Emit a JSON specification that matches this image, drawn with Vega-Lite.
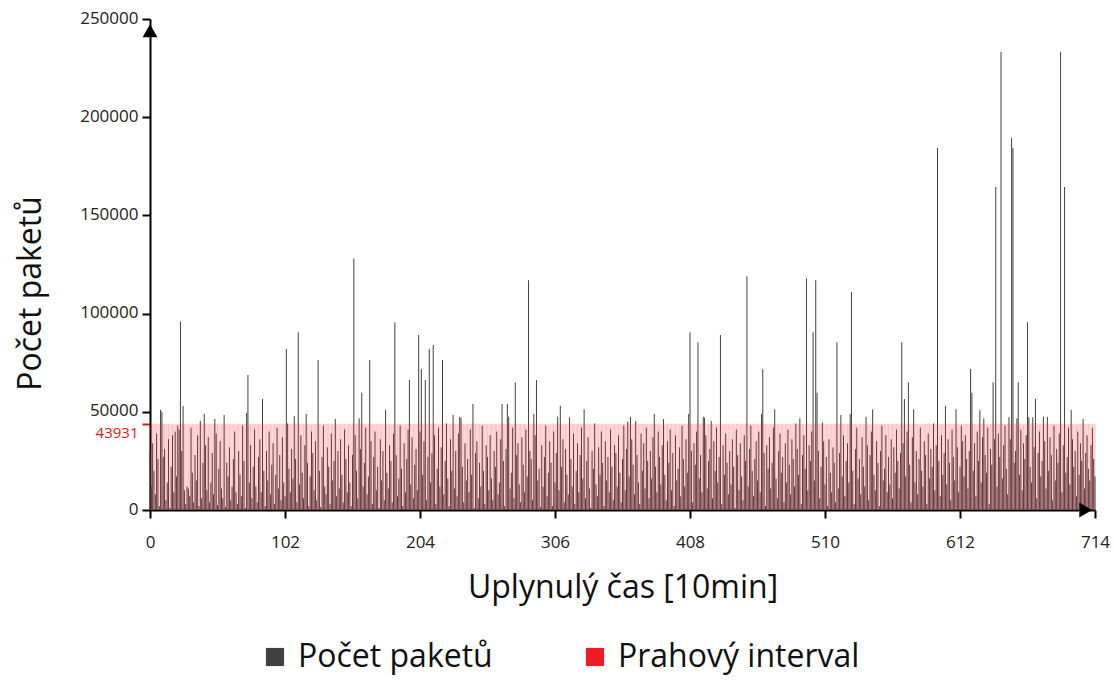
{
"$schema": "https://vega.github.io/schema/vega-lite/v6.json",
"width": 945, "height": 491,
"autosize": "none",
"padding": {"left": 150, "top": 19, "right": 19, "bottom": 171},
"background": "white",
"config": {"view": {"stroke": null}, "font": "Open Sans"},
"data": {"values": [
{"t":0,"v":30000},{"t":1,"v":12000},{"t":2,"v":34000},{"t":3,"v":20000},{"t":4,"v":8000},{"t":5,"v":39000},{"t":6,"v":26000},{"t":7,"v":2000},{"t":8,"v":51000},{"t":9,"v":50000},{"t":10,"v":27000},{"t":11,"v":31000},{"t":12,"v":5000},{"t":13,"v":14000},{"t":14,"v":36000},{"t":15,"v":1000},{"t":16,"v":22000},{"t":17,"v":38000},{"t":18,"v":9000},{"t":19,"v":40000},
{"t":20,"v":17000},{"t":21,"v":43000},{"t":22,"v":41000},{"t":23,"v":96000},{"t":24,"v":30000},{"t":25,"v":53000},{"t":26,"v":10000},{"t":27,"v":3000},{"t":28,"v":12000},{"t":29,"v":11000},{"t":30,"v":7000},{"t":31,"v":42000},{"t":32,"v":19000},{"t":33,"v":4000},{"t":34,"v":28000},{"t":35,"v":15000},{"t":36,"v":38000},{"t":37,"v":2000},{"t":38,"v":45300},{"t":39,"v":6000},
{"t":40,"v":24000},{"t":41,"v":49000},{"t":42,"v":33000},{"t":43,"v":10000},{"t":44,"v":37000},{"t":45,"v":4000},{"t":46,"v":14000},{"t":47,"v":29000},{"t":48,"v":8000},{"t":49,"v":46300},{"t":50,"v":39000},{"t":51,"v":2500},{"t":52,"v":21000},{"t":53,"v":35000},{"t":54,"v":11000},{"t":55,"v":6000},{"t":56,"v":48400},{"t":57,"v":1500},{"t":58,"v":24000},{"t":59,"v":17000},
{"t":60,"v":32000},{"t":61,"v":5000},{"t":62,"v":12000},{"t":63,"v":26000},{"t":64,"v":40000},{"t":65,"v":9000},{"t":66,"v":3000},{"t":67,"v":30000},{"t":68,"v":18000},{"t":69,"v":7000},{"t":70,"v":43000},{"t":71,"v":25000},{"t":72,"v":1000},{"t":73,"v":49400},{"t":74,"v":68700},{"t":75,"v":14000},{"t":76,"v":33000},{"t":77,"v":6000},{"t":78,"v":22000},{"t":79,"v":41000},
{"t":80,"v":12000},{"t":81,"v":4000},{"t":82,"v":27000},{"t":83,"v":36000},{"t":84,"v":9000},{"t":85,"v":56500},{"t":86,"v":20000},{"t":87,"v":2000},{"t":88,"v":30000},{"t":89,"v":15000},{"t":90,"v":40000},{"t":91,"v":8000},{"t":92,"v":23000},{"t":93,"v":34000},{"t":94,"v":3000},{"t":95,"v":18000},{"t":96,"v":42000},{"t":97,"v":11000},{"t":98,"v":28000},{"t":99,"v":5000},
{"t":100,"v":37000},{"t":101,"v":14000},{"t":102,"v":7000},{"t":103,"v":82000},{"t":104,"v":44000},{"t":105,"v":21000},{"t":106,"v":9000},{"t":107,"v":31000},{"t":108,"v":16000},{"t":109,"v":47800},{"t":110,"v":26000},{"t":111,"v":4000},{"t":112,"v":90500},{"t":113,"v":13000},{"t":114,"v":38000},{"t":115,"v":19000},{"t":116,"v":6000},{"t":117,"v":33000},{"t":118,"v":48900},{"t":119,"v":24000},
{"t":120,"v":2000},{"t":121,"v":17000},{"t":122,"v":40000},{"t":123,"v":29000},{"t":124,"v":10000},{"t":125,"v":35000},{"t":126,"v":5000},{"t":127,"v":76400},{"t":128,"v":20000},{"t":129,"v":1500},{"t":130,"v":27000},{"t":131,"v":43000},{"t":132,"v":12000},{"t":133,"v":8000},{"t":134,"v":32000},{"t":135,"v":22000},{"t":136,"v":3000},{"t":137,"v":39000},{"t":138,"v":15000},{"t":139,"v":25000},
{"t":140,"v":46300},{"t":141,"v":7000},{"t":142,"v":30000},{"t":143,"v":11000},{"t":144,"v":36000},{"t":145,"v":18000},{"t":146,"v":4000},{"t":147,"v":41000},{"t":148,"v":26000},{"t":149,"v":9000},{"t":150,"v":33000},{"t":151,"v":14000},{"t":152,"v":2000},{"t":153,"v":28000},{"t":154,"v":128000},{"t":155,"v":38000},{"t":156,"v":20000},{"t":157,"v":6000},{"t":158,"v":46700},{"t":159,"v":31000},
{"t":160,"v":59700},{"t":161,"v":12000},{"t":162,"v":24000},{"t":163,"v":42000},{"t":164,"v":8000},{"t":165,"v":17000},{"t":166,"v":76400},{"t":167,"v":35000},{"t":168,"v":3000},{"t":169,"v":27000},{"t":170,"v":40000},{"t":171,"v":10000},{"t":172,"v":22000},{"t":173,"v":1000},{"t":174,"v":36000},{"t":175,"v":15000},{"t":176,"v":30000},{"t":177,"v":5000},{"t":178,"v":50900},{"t":179,"v":19000},
{"t":180,"v":11000},{"t":181,"v":33000},{"t":182,"v":25000},{"t":183,"v":4000},{"t":184,"v":39000},{"t":185,"v":95600},{"t":186,"v":28000},{"t":187,"v":7000},{"t":188,"v":16000},{"t":189,"v":43000},{"t":190,"v":21000},{"t":191,"v":2000},{"t":192,"v":34000},{"t":193,"v":9000},{"t":194,"v":26000},{"t":195,"v":41000},{"t":196,"v":66200},{"t":197,"v":13000},{"t":198,"v":37000},{"t":199,"v":6000},
{"t":200,"v":23000},{"t":201,"v":31000},{"t":202,"v":10000},{"t":203,"v":89100},{"t":204,"v":40000},{"t":205,"v":71800},{"t":206,"v":18000},{"t":207,"v":35000},{"t":208,"v":66200},{"t":209,"v":5000},{"t":210,"v":27000},{"t":211,"v":82000},{"t":212,"v":14000},{"t":213,"v":29000},{"t":214,"v":84000},{"t":215,"v":38000},{"t":216,"v":3000},{"t":217,"v":21000},{"t":218,"v":42000},{"t":219,"v":12000},
{"t":220,"v":32000},{"t":221,"v":76400},{"t":222,"v":8000},{"t":223,"v":25000},{"t":224,"v":44000},{"t":225,"v":16000},{"t":226,"v":2000},{"t":227,"v":36000},{"t":228,"v":20000},{"t":229,"v":48400},{"t":230,"v":11000},{"t":231,"v":30000},{"t":232,"v":7000},{"t":233,"v":39000},{"t":234,"v":47500},{"t":235,"v":47000},{"t":236,"v":22000},{"t":237,"v":4000},{"t":238,"v":34000},{"t":239,"v":15000},
{"t":240,"v":26000},{"t":241,"v":9000},{"t":242,"v":41000},{"t":243,"v":18000},{"t":244,"v":54000},{"t":245,"v":1000},{"t":246,"v":29000},{"t":247,"v":35000},{"t":248,"v":6000},{"t":249,"v":24000},{"t":250,"v":12000},{"t":251,"v":43000},{"t":252,"v":20000},{"t":253,"v":3000},{"t":254,"v":33000},{"t":255,"v":27000},{"t":256,"v":10000},{"t":257,"v":38000},{"t":258,"v":16000},{"t":259,"v":5000},
{"t":260,"v":30000},{"t":261,"v":22000},{"t":262,"v":40000},{"t":263,"v":8000},{"t":264,"v":14000},{"t":265,"v":36000},{"t":266,"v":54000},{"t":267,"v":25000},{"t":268,"v":2000},{"t":269,"v":31000},{"t":270,"v":54000},{"t":271,"v":47500},{"t":272,"v":11000},{"t":273,"v":19000},{"t":274,"v":42000},{"t":275,"v":6000},{"t":276,"v":65000},{"t":277,"v":28000},{"t":278,"v":34000},{"t":279,"v":13000},
{"t":280,"v":4000},{"t":281,"v":37000},{"t":282,"v":23000},{"t":283,"v":9000},{"t":284,"v":41000},{"t":285,"v":17000},{"t":286,"v":117000},{"t":287,"v":30000},{"t":288,"v":26000},{"t":289,"v":5000},{"t":290,"v":48900},{"t":291,"v":38000},{"t":292,"v":66200},{"t":293,"v":15000},{"t":294,"v":21000},{"t":295,"v":1500},{"t":296,"v":33000},{"t":297,"v":12000},{"t":298,"v":27000},{"t":299,"v":43000},
{"t":300,"v":7000},{"t":301,"v":19000},{"t":302,"v":35000},{"t":303,"v":24000},{"t":304,"v":2000},{"t":305,"v":40000},{"t":306,"v":14000},{"t":307,"v":29000},{"t":308,"v":47500},{"t":309,"v":10000},{"t":310,"v":53100},{"t":311,"v":22000},{"t":312,"v":36000},{"t":313,"v":4000},{"t":314,"v":31000},{"t":315,"v":18000},{"t":316,"v":8000},{"t":317,"v":47200},{"t":318,"v":26000},{"t":319,"v":12000},
{"t":320,"v":39000},{"t":321,"v":3000},{"t":322,"v":20000},{"t":323,"v":34000},{"t":324,"v":9000},{"t":325,"v":28000},{"t":326,"v":42000},{"t":327,"v":16000},{"t":328,"v":51300},{"t":329,"v":6000},{"t":330,"v":25000},{"t":331,"v":37000},{"t":332,"v":11000},{"t":333,"v":1000},{"t":334,"v":30000},{"t":335,"v":21000},{"t":336,"v":44000},{"t":337,"v":13000},{"t":338,"v":7000},{"t":339,"v":32000},
{"t":340,"v":18000},{"t":341,"v":40000},{"t":342,"v":24000},{"t":343,"v":2000},{"t":344,"v":35000},{"t":345,"v":15000},{"t":346,"v":27000},{"t":347,"v":9000},{"t":348,"v":41000},{"t":349,"v":22000},{"t":350,"v":5000},{"t":351,"v":33000},{"t":352,"v":29000},{"t":353,"v":12000},{"t":354,"v":38000},{"t":355,"v":19000},{"t":356,"v":4000},{"t":357,"v":26000},{"t":358,"v":43000},{"t":359,"v":10000},
{"t":360,"v":31000},{"t":361,"v":45000},{"t":362,"v":17000},{"t":363,"v":47500},{"t":364,"v":36000},{"t":365,"v":23000},{"t":366,"v":8000},{"t":367,"v":45300},{"t":368,"v":28000},{"t":369,"v":14000},{"t":370,"v":3000},{"t":371,"v":39000},{"t":372,"v":20000},{"t":373,"v":34000},{"t":374,"v":11000},{"t":375,"v":42000},{"t":376,"v":25000},{"t":377,"v":6000},{"t":378,"v":30000},{"t":379,"v":16000},
{"t":380,"v":37000},{"t":381,"v":48900},{"t":382,"v":22000},{"t":383,"v":9000},{"t":384,"v":40000},{"t":385,"v":27000},{"t":386,"v":13000},{"t":387,"v":33000},{"t":388,"v":46300},{"t":389,"v":18000},{"t":390,"v":5000},{"t":391,"v":35000},{"t":392,"v":24000},{"t":393,"v":41000},{"t":394,"v":10000},{"t":395,"v":29000},{"t":396,"v":2000},{"t":397,"v":38000},{"t":398,"v":15000},{"t":399,"v":21000},
{"t":400,"v":32000},{"t":401,"v":7000},{"t":402,"v":43000},{"t":403,"v":26000},{"t":404,"v":12000},{"t":405,"v":36000},{"t":406,"v":19000},{"t":407,"v":48900},{"t":408,"v":90500},{"t":409,"v":30000},{"t":410,"v":4000},{"t":411,"v":34000},{"t":412,"v":23000},{"t":413,"v":40000},{"t":414,"v":85400},{"t":415,"v":16000},{"t":416,"v":28000},{"t":417,"v":9000},{"t":418,"v":47500},{"t":419,"v":47000},
{"t":420,"v":38000},{"t":421,"v":11000},{"t":422,"v":25000},{"t":423,"v":31000},{"t":424,"v":45300},{"t":425,"v":6000},{"t":426,"v":35000},{"t":427,"v":20000},{"t":428,"v":42000},{"t":429,"v":14000},{"t":430,"v":27000},{"t":431,"v":89100},{"t":432,"v":3000},{"t":433,"v":33000},{"t":434,"v":18000},{"t":435,"v":39000},{"t":436,"v":24000},{"t":437,"v":8000},{"t":438,"v":30000},{"t":439,"v":13000},
{"t":440,"v":36000},{"t":441,"v":22000},{"t":442,"v":1000},{"t":443,"v":41000},{"t":444,"v":28000},{"t":445,"v":10000},{"t":446,"v":34000},{"t":447,"v":17000},{"t":448,"v":5000},{"t":449,"v":38000},{"t":450,"v":25000},{"t":451,"v":119000},{"t":452,"v":12000},{"t":453,"v":31000},{"t":454,"v":43000},{"t":455,"v":20000},{"t":456,"v":7000},{"t":457,"v":26000},{"t":458,"v":35000},{"t":459,"v":15000},
{"t":460,"v":40000},{"t":461,"v":9000},{"t":462,"v":48900},{"t":463,"v":71800},{"t":464,"v":29000},{"t":465,"v":2000},{"t":466,"v":33000},{"t":467,"v":21000},{"t":468,"v":37000},{"t":469,"v":11000},{"t":470,"v":24000},{"t":471,"v":42000},{"t":472,"v":51300},{"t":473,"v":16000},{"t":474,"v":6000},{"t":475,"v":30000},{"t":476,"v":39000},{"t":477,"v":19000},{"t":478,"v":27000},{"t":479,"v":4000},
{"t":480,"v":34000},{"t":481,"v":14000},{"t":482,"v":41000},{"t":483,"v":23000},{"t":484,"v":8000},{"t":485,"v":36000},{"t":486,"v":26000},{"t":487,"v":12000},{"t":488,"v":44000},{"t":489,"v":31000},{"t":490,"v":18000},{"t":491,"v":46700},{"t":492,"v":3000},{"t":493,"v":28000},{"t":494,"v":38000},{"t":495,"v":21000},{"t":496,"v":118000},{"t":497,"v":10000},{"t":498,"v":33000},{"t":499,"v":25000},
{"t":500,"v":40000},{"t":501,"v":90500},{"t":502,"v":15000},{"t":503,"v":117000},{"t":504,"v":59700},{"t":505,"v":30000},{"t":506,"v":6000},{"t":507,"v":22000},{"t":508,"v":44600},{"t":509,"v":35000},{"t":510,"v":13000},{"t":511,"v":27000},{"t":512,"v":2000},{"t":513,"v":36000},{"t":514,"v":19000},{"t":515,"v":9000},{"t":516,"v":32000},{"t":517,"v":24000},{"t":518,"v":4000},{"t":519,"v":85400},
{"t":520,"v":11000},{"t":521,"v":29000},{"t":522,"v":48400},{"t":523,"v":17000},{"t":524,"v":38000},{"t":525,"v":7000},{"t":526,"v":25000},{"t":527,"v":34000},{"t":528,"v":14000},{"t":529,"v":48900},{"t":530,"v":111000},{"t":531,"v":20000},{"t":532,"v":3000},{"t":533,"v":31000},{"t":534,"v":42000},{"t":535,"v":16000},{"t":536,"v":26000},{"t":537,"v":8000},{"t":538,"v":37000},{"t":539,"v":22000},
{"t":540,"v":12000},{"t":541,"v":47500},{"t":542,"v":33000},{"t":543,"v":5000},{"t":544,"v":28000},{"t":545,"v":40000},{"t":546,"v":51300},{"t":547,"v":18000},{"t":548,"v":10000},{"t":549,"v":35000},{"t":550,"v":24000},{"t":551,"v":2000},{"t":552,"v":30000},{"t":553,"v":43000},{"t":554,"v":15000},{"t":555,"v":21000},{"t":556,"v":38000},{"t":557,"v":9000},{"t":558,"v":27000},{"t":559,"v":13000},
{"t":560,"v":36000},{"t":561,"v":6000},{"t":562,"v":32000},{"t":563,"v":19000},{"t":564,"v":41000},{"t":565,"v":25000},{"t":566,"v":11000},{"t":567,"v":29000},{"t":568,"v":85400},{"t":569,"v":34000},{"t":570,"v":56500},{"t":571,"v":17000},{"t":572,"v":40000},{"t":573,"v":65000},{"t":574,"v":23000},{"t":575,"v":4000},{"t":576,"v":37000},{"t":577,"v":51300},{"t":578,"v":14000},{"t":579,"v":30000},
{"t":580,"v":8000},{"t":581,"v":26000},{"t":582,"v":42000},{"t":583,"v":20000},{"t":584,"v":12000},{"t":585,"v":35000},{"t":586,"v":28000},{"t":587,"v":3000},{"t":588,"v":39000},{"t":589,"v":16000},{"t":590,"v":31000},{"t":591,"v":22000},{"t":592,"v":44000},{"t":593,"v":10000},{"t":594,"v":33000},{"t":595,"v":184300},{"t":596,"v":25000},{"t":597,"v":7000},{"t":598,"v":38000},{"t":599,"v":18000},
{"t":600,"v":29000},{"t":601,"v":53100},{"t":602,"v":13000},{"t":603,"v":36000},{"t":604,"v":24000},{"t":605,"v":5000},{"t":606,"v":41000},{"t":607,"v":27000},{"t":608,"v":15000},{"t":609,"v":51300},{"t":610,"v":32000},{"t":611,"v":9000},{"t":612,"v":22000},{"t":613,"v":43000},{"t":614,"v":35000},{"t":615,"v":17000},{"t":616,"v":38000},{"t":617,"v":26000},{"t":618,"v":11000},{"t":619,"v":30000},
{"t":620,"v":71800},{"t":621,"v":59700},{"t":622,"v":20000},{"t":623,"v":34000},{"t":624,"v":7000},{"t":625,"v":40000},{"t":626,"v":25000},{"t":627,"v":50900},{"t":628,"v":14000},{"t":629,"v":37000},{"t":630,"v":46700},{"t":631,"v":28000},{"t":632,"v":19000},{"t":633,"v":42000},{"t":634,"v":3000},{"t":635,"v":31000},{"t":636,"v":23000},{"t":637,"v":65000},{"t":638,"v":36000},{"t":639,"v":164500},
{"t":640,"v":12000},{"t":641,"v":39000},{"t":642,"v":27000},{"t":643,"v":233300},{"t":644,"v":16000},{"t":645,"v":33000},{"t":646,"v":43000},{"t":647,"v":21000},{"t":648,"v":8000},{"t":649,"v":47200},{"t":650,"v":36000},{"t":651,"v":189400},{"t":652,"v":184300},{"t":653,"v":24000},{"t":654,"v":30000},{"t":655,"v":46700},{"t":656,"v":65000},{"t":657,"v":18000},{"t":658,"v":41000},{"t":659,"v":10000},
{"t":660,"v":34000},{"t":661,"v":26000},{"t":662,"v":38000},{"t":663,"v":95600},{"t":664,"v":47200},{"t":665,"v":22000},{"t":666,"v":14000},{"t":667,"v":47200},{"t":668,"v":32000},{"t":669,"v":56500},{"t":670,"v":6000},{"t":671,"v":29000},{"t":672,"v":40000},{"t":673,"v":17000},{"t":674,"v":25000},{"t":675,"v":47500},{"t":676,"v":35000},{"t":677,"v":11000},{"t":678,"v":47500},{"t":679,"v":20000},
{"t":680,"v":37000},{"t":681,"v":28000},{"t":682,"v":5000},{"t":683,"v":43000},{"t":684,"v":15000},{"t":685,"v":31000},{"t":686,"v":24000},{"t":687,"v":39000},{"t":688,"v":233300},{"t":689,"v":9000},{"t":690,"v":33000},{"t":691,"v":164500},{"t":692,"v":19000},{"t":693,"v":27000},{"t":694,"v":42000},{"t":695,"v":13000},{"t":696,"v":50900},{"t":697,"v":36000},{"t":698,"v":22000},{"t":699,"v":30000},
{"t":700,"v":7000},{"t":701,"v":40000},{"t":702,"v":18000},{"t":703,"v":34000},{"t":704,"v":25000},{"t":705,"v":46300},{"t":706,"v":11000},{"t":707,"v":29000},{"t":708,"v":38000},{"t":709,"v":21000},{"t":710,"v":15000},{"t":711,"v":33000},{"t":712,"v":41900},{"t":713,"v":26000},{"t":714,"v":17000}
]},
"layer": [
{
"mark": {"type": "bar", "width": 1},
"encoding": {
"x": {"field": "t", "type": "quantitative",
"scale": {"domain": [0, 714], "nice": false, "zero": false, "padding": 0},
"axis": {"values": [0, 102, 204, 306, 408, 510, 612, 714], "format": "d", "title": "Uplynulý čas [10min]", "titleFontSize": 32, "titleFontWeight": "normal", "titleColor": "#111", "titlePadding": 22, "labelFontSize": 17, "labelColor": "#222", "labelPadding": 16, "domainColor": "black", "domainWidth": 2, "tickColor": "black", "tickWidth": 2, "tickSize": 8, "grid": false, "labelFlush": false}},
"y": {"field": "v", "type": "quantitative",
"scale": {"domain": [0, 250000], "nice": false},
"axis": {"values": [0, 43931, 50000, 100000, 150000, 200000, 250000], "format": "d", "title": "Počet paketů", "titleFontSize": 32, "titleFontWeight": "normal", "titleColor": "#111", "titlePadding": 32, "titleY": 274, "labelFontSize": {"condition": {"test": "datum.value === 43931", "value": 15}, "value": 17}, "labelOverlap": false, "labelPadding": 4,
"labelColor": {"condition": {"test": "datum.value === 43931", "value": "#e8141b"}, "value": "#222"},
"labelOffset": {"condition": {"test": "datum.value === 43931", "value": 9}, "value": -1},
"tickColor": {"condition": {"test": "datum.value === 43931", "value": "#e8141b"}, "value": "black"},
"domainColor": "black", "domainWidth": 2, "tickWidth": 2, "tickSize": 8, "grid": false, "labelFlush": false}},
"color": {"datum": "Počet paketů", "type": "nominal",
"scale": {"domain": ["Počet paketů", "Prahový interval"], "range": ["#404040", "#ed1c24"]},
"legend": {"orient": "none", "direction": "horizontal", "legendX": 109, "legendY": 622, "title": null, "symbolType": "square", "symbolSize": 330, "symbolStrokeWidth": 0, "symbolOpacity": 1, "labelFontSize": 32, "labelLimit": 500, "labelColor": "#111", "columnPadding": 86, "labelOffset": 7,
"encode": {"symbols": {"update": {"opacity": {"value": 1}, "fillOpacity": {"value": 1}}}}}}
}
},
{
"mark": {"type": "bar", "width": 1, "opacity": 0.27},
"encoding": {
"x": {"field": "t", "type": "quantitative"},
"y": {"datum": 43931, "type": "quantitative"},
"color": {"datum": "Prahový interval", "type": "nominal"}
}
},
{
"data": {"values": [{"k": "y"}]},
"mark": {"type": "point", "shape": "triangle-up", "filled": true, "color": "black", "size": 220, "opacity": 1},
"encoding": {"x": {"datum": 0, "type": "quantitative"}, "y": {"datum": 244000, "type": "quantitative"}}
},
{
"data": {"values": [{"k": "x"}]},
"mark": {"type": "point", "shape": "triangle-right", "filled": true, "color": "black", "size": 220, "opacity": 1},
"encoding": {"x": {"datum": 707, "type": "quantitative"}, "y": {"datum": 0, "type": "quantitative"}}
}
]
}
